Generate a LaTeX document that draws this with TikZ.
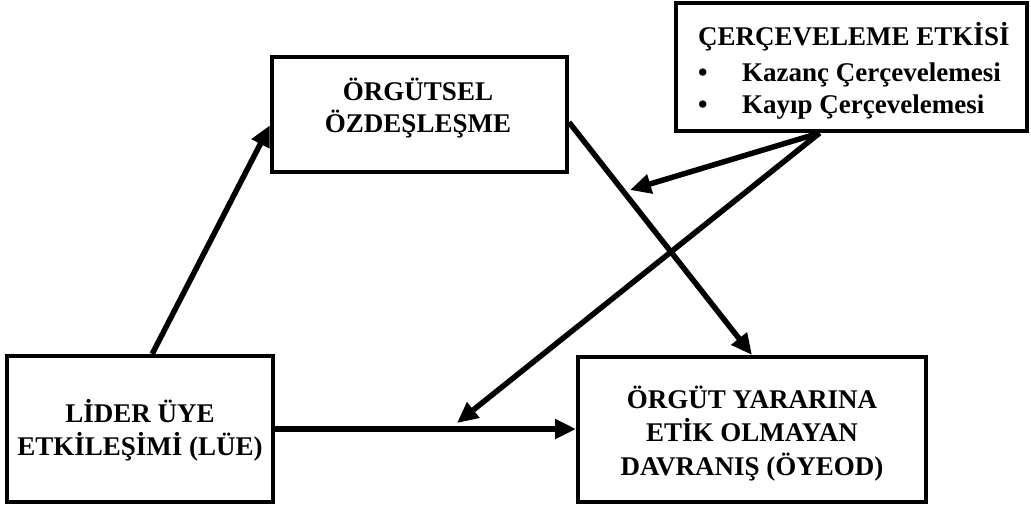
\documentclass[tikz,border=0pt]{standalone}
\usepackage{fontspec}
\setmainfont{Liberation Serif}
\usetikzlibrary{arrows.meta,calc}
\begin{document}
\begin{tikzpicture}[x=1pt,y=-1pt,
  box/.style={draw=black,line width=4pt,rectangle,inner sep=0pt},
  txt/.style={font=\fontsize{27}{33}\selectfont\bfseries,anchor=base,inner sep=0pt},
  lft/.style={txt,anchor=base west},
  link/.style={line width=5.5pt,-{Triangle[length=21pt,width=19pt]}}]
\useasboundingbox (0,0) rectangle (1031,506);

% boxes
\node[box,minimum width=295pt,minimum height=115pt] (org) at (419.5,114.5) {};
\node[box,minimum width=266pt,minimum height=146pt] (lue) at (140,429) {};
\node[box,minimum width=348pt,minimum height=145pt] (oy) at (752,429.5) {};
\node[box,minimum width=351pt,minimum height=128pt] (frame) at (851.5,67) {};

% box texts
\node[txt] (org1) at (418,100) {ÖRGÜTSEL};
\node[txt] (org2) at (418,132) {ÖZDEŞLEŞME};
\node[txt] (lue1) at (140,422) {LİDER ÜYE};
\node[txt] (lue2) at (140,455) {ETKİLEŞİMİ (LÜE)};
\node[txt] (oy1) at (752,408) {ÖRGÜT YARARINA};
\node[txt] (oy2) at (752,441) {ETİK OLMAYAN};
\node[txt] (oy3) at (752,475) {DAVRANIŞ (ÖYEOD)};
\node[lft] (fr1) at (698,45) {ÇERÇEVELEME ETKİSİ};
\node[lft] (fr2) at (698,81) {\makebox[44pt][l]{•}Kazanç Çerçevelemesi};
\node[lft] (fr3) at (698,113) {\makebox[44pt][l]{•}Kayıp Çerçevelemesi};

% connection points
\coordinate (a3s) at ($(org.north east)!0.565!(org.south east)$);
\coordinate (fs) at ($(frame.south west)!0.41!(frame.south east)$);
\coordinate (m1) at (630,190);
\coordinate (m2) at (457,423);

% arrows
\draw[link] ($(lue.north west)!0.545!(lue.north east)$) -- ($(org.north west)!0.59!(org.south west)$);
\draw[link] (lue.east) -- (lue.east -| oy.west);
\draw[link] (a3s) -- (oy.north);
\draw[link] (fs) -- (m1);
\draw[link] (fs) -- (m2);
\end{tikzpicture}
\end{document}
